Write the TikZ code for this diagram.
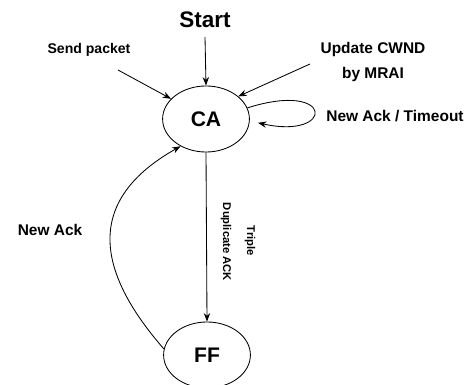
\documentclass[tikz,border=0pt]{standalone}
\usepackage{fontspec}
\setmainfont{Liberation Sans}
\usetikzlibrary{arrows.meta,shapes.geometric}

\begin{document}
\begin{tikzpicture}[x=0.025cm,y=-0.025cm,line width=0.6pt,
  state/.style={ellipse,draw,minimum width=2.17cm,minimum height=1.65cm,inner sep=0pt,font=\fontsize{15}{17}\selectfont\bfseries},
  lbl/.style={font=\fontsize{11}{13}\selectfont\bfseries,inner sep=1pt},
  arr/.style={-{Stealth[length=6pt,width=4.5pt]}}]

\useasboundingbox (0,0) rectangle (472,385);

% draw states
\node[state] (ca) at (206,119) {CA};
\node[state] (ff) at (207,355) {FF};

% add labels
\node[font=\fontsize{16}{18}\selectfont\bfseries] (start) at (205,20) {Start};
\node[lbl,font=\fontsize{10}{12}\selectfont\bfseries] (send) at (89,50) {Send packet};
\node[lbl] (upd) at (373,50) {Update CWND};
\node[lbl] (mrai) at (373,75) {by MRAI};
\node[lbl] (loop) at (395,116) {New Ack / Timeout};
\node[lbl] (newack) at (50,230) {New Ack};
\node[font=\fontsize{8}{9}\selectfont\bfseries,rotate=-90] (dup) at (226,242) {Duplicate ACK};
\node[font=\fontsize{8}{9}\selectfont\bfseries,rotate=-90] (triple) at (250,241) {Triple};

% free ends of the incoming arrows
\coordinate (startend) at (205,37);
\coordinate (sendend) at (118,70);
\coordinate (updend) at (310,64);

% draw transitions
\draw[arr] (startend) -- (ca.north);
\draw[arr] (sendend) -- (ca.150);
\draw[arr] (updend) -- (ca.35);
\draw[arr] (ca.15) .. controls (335,80) and (335,140) .. ([xshift=6pt]ca.-5);
\draw[arr] (ca.south) -- (ff.north);
\draw[arr] (ff.172) .. controls (95,270) and (85,200) .. (ca.-133);

\end{tikzpicture}
\end{document}
